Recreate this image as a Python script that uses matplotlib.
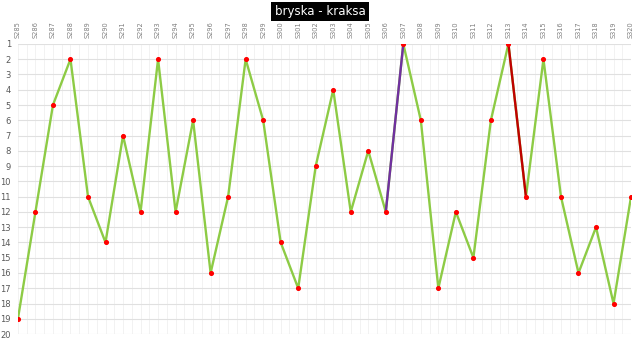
import numpy as np
import matplotlib.pyplot as plt
from matplotlib.ticker import MultipleLocator

# categories and values
labels = ["S%d" % n for n in range(285, 321)]
values = [19, 12, 5, 2, 11, 14, 7, 12, 2, 12, 6, 16, 11, 2, 6, 14, 17, 9, 4, 12,
          8, 12, 1, 6, 17, 12, 15, 6, 1, 11, 2, 11, 16, 13, 18, 11]
# highlighted segments: (start index, colour)
highlights = {21: "#7030A0", 28: "#C00000"}

fig = plt.figure(figsize=(6.4, 3.6), dpi=100)
ax = fig.add_axes([0.028, 0.072, 0.958, 0.806])

x = np.arange(len(values))
ax.plot(x, values, color="#8DCB45", lw=1.7, zorder=2)
for i, c in highlights.items():
    ax.plot(x[i:i + 2], values[i:i + 2], color=c, lw=1.7, zorder=3)
ax.scatter(x, values, color="#FF0000", s=7, zorder=4)

ax.set_xlim(0, len(values) - 1)
ax.set_ylim(20, 1)
ax.set_yticks(range(1, 21))
ax.set_xticks(x)
ax.set_xticklabels(labels, rotation=90, fontsize=4.8, color="#7F7F7F")
ax.xaxis.tick_top()
ax.xaxis.set_minor_locator(MultipleLocator(0.5))
ax.tick_params(axis="y", labelsize=6, labelcolor="#595959", length=0, pad=5)
ax.tick_params(axis="x", length=0, pad=4)
ax.tick_params(which="minor", length=0)
ax.grid(axis="y", color="#E0E0E0", lw=0.8)
ax.grid(axis="x", which="both", color="#F0F0F0", lw=0.6)
for s in ax.spines.values():
    s.set_visible(False)

fig.text(0.5, 0.968, "bryska - kraksa", ha="center", va="center", color="white",
         fontsize=8.5, bbox=dict(facecolor="black", edgecolor="none", pad=2.5))

fig.savefig("out.png", dpi=100)
